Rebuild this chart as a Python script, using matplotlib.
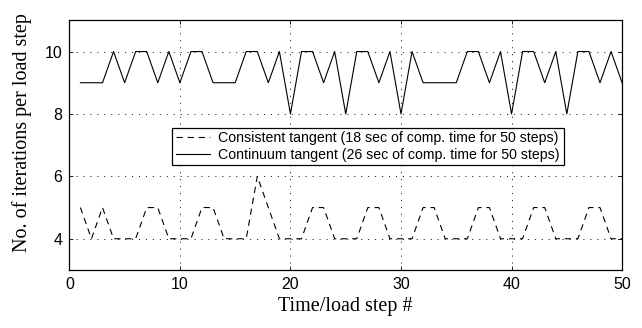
import numpy as np
import matplotlib
matplotlib.use('Agg')
import matplotlib.pyplot as plt

steps = list(range(1, 51))
consistent = [5, 4, 5, 4, 4, 4, 5, 5, 4, 4,
              4, 5, 5, 4, 4, 4, 6, 5, 4, 4,
              4, 5, 5, 4, 4, 4, 5, 5, 4, 4,
              4, 5, 5, 4, 4, 4, 5, 5, 4, 4,
              4, 5, 5, 4, 4, 4, 5, 5, 4, 4]
continuum = [9, 9, 9, 10, 9, 10, 10, 9, 10, 9,
             10, 10, 9, 9, 9, 10, 10, 9, 10, 8,
             10, 10, 9, 10, 8, 10, 10, 9, 10, 8,
             10, 9, 9, 9, 9, 10, 10, 9, 10, 8,
             10, 10, 9, 10, 8, 10, 10, 9, 10, 9]
labels = ['Consistent tangent (18 sec of comp. time for 50 steps)',
          'Continuum tangent (26 sec of comp. time for 50 steps)']

plt.rcParams['lines.scale_dashes'] = False
fig = plt.figure(figsize=(6.42, 3.28), dpi=100)
ax = fig.add_axes([0.108, 0.177, 0.861, 0.761])

ax.plot(steps, consistent, color='black', lw=0.8, dashes=(4.5, 3.5), label=labels[0])
ax.plot(steps, continuum, color='black', lw=0.8, label=labels[1])

ax.set_xlim(0, 50)
ax.set_ylim(3, 11)
ax.set_xticks([0, 10, 20, 30, 40, 50])
ax.set_yticks([4, 6, 8, 10])
ax.grid(True, color='black', lw=0.6, linestyle=(0, (0.8, 4.2)))
ax.tick_params(direction='in', length=3, width=0.6, labelsize=11.5, top=True, right=True, pad=5)
for lab in ax.get_xticklabels() + ax.get_yticklabels():
    lab.set_family('Liberation Sans')
for s in ax.spines.values():
    s.set_linewidth(0.9)

ax.set_xlabel('Time/load step #', family='Liberation Serif', fontsize=14.5, labelpad=4)
ax.set_ylabel('No. of iterations per load step', family='Liberation Serif', fontsize=14.5)
ax.yaxis.set_label_coords(-0.068, 0.55)

leg = ax.legend(loc='lower left', bbox_to_anchor=(0.1865, 0.42), prop={'family': 'Liberation Sans', 'size': 10.2},
                fancybox=False, framealpha=1, edgecolor='black', handlelength=2.4,
                borderpad=0.25, labelspacing=0.15, handletextpad=0.6, borderaxespad=0)
leg.get_frame().set_linewidth(0.9)

fig.savefig('out.png', dpi=100)
